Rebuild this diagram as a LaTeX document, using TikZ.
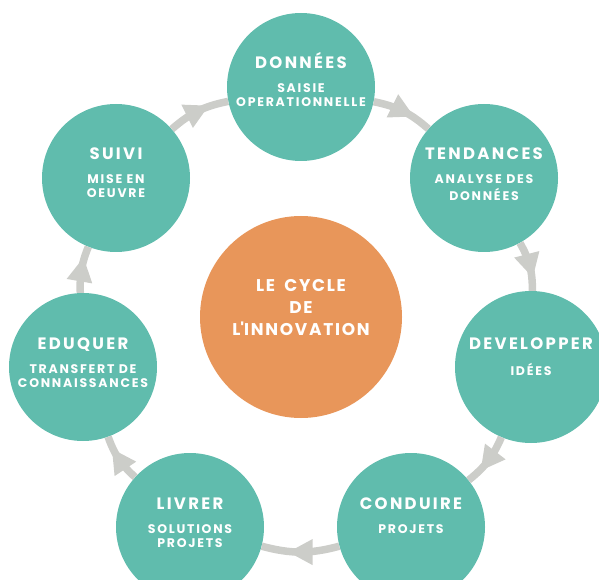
\documentclass[tikz,border=0pt]{standalone}
\usepackage{fontspec}
\setmainfont{Poppins}
\usetikzlibrary{positioning}
\usetikzlibrary{decorations.markings}
\definecolor{stepgreen}{RGB}{96,188,173}
\definecolor{cycleorange}{RGB}{232,150,90}
\definecolor{ringgrey}{RGB}{204,205,201}
\newfontfamily\capfont{Poppins}[LetterSpace=14]
\newfontfamily\cyclefont{Poppins}[LetterSpace=10]
\newcommand{\titlesize}{\fontsize{16.5}{18}\selectfont}
\newcommand{\subsize}{\fontsize{12.5}{14}\selectfont}
% first baseline fixed above the centre of the circle
\newcommand{\steptext}[2]{\raisebox{18pt}[0pt][0pt]{\begin{tabular}[t]{@{}c@{}}{\titlesize #1}\\[10pt]#2\end{tabular}}}
\tikzset{stepnode/.style={circle, fill=stepgreen, text=white, minimum size=148pt, inner sep=0pt,
    font=\capfont\bfseries\subsize}}
\tikzset{ring/.style={draw=ringgrey, line width=7.5pt}}
\tikzset{->-/.style={decoration={
      markings,
      mark=at position #1 with {\fill[ringgrey] (12pt,0) -- (-12pt,13pt) -- (-12pt,-13pt) -- cycle;}},postaction={decorate}}}

\begin{document}
\begin{tikzpicture}[x=1pt, y=1pt]
\clip (0,0) rectangle (599,579);

\node[circle, fill=cycleorange, text=white, minimum size=202pt, inner sep=0pt,
      font=\cyclefont\bfseries\fontsize{17}{21.5}\selectfont] (cycle) at (301,262)
      {\raisebox{25pt}[0pt][0pt]{\begin{tabular}[t]{@{}c@{}}LE\hspace{4pt} CYCLE\\DE\\L\textquotesingle INNOVATION\end{tabular}}};

\node[stepnode] (donnees) at (301,492) {\steptext{DONNÉES}{SAISIE\\OPERATIONNELLE}};
\node[stepnode] (tendances) at (484,401) {\steptext{TENDANCES}{ANALYSE DES\\DONNÉES}};
\node[stepnode, minimum size=152pt] (developper) at (531,212) {\steptext{DEVELOPPER}{IDÉES}};
\node[stepnode] (conduire) at (411,52) {\steptext{CONDUIRE}{PROJETS}};
\node[stepnode] (livrer) at (190,52) {\steptext{LIVRER}{SOLUTIONS\\PROJETS}};
\node[stepnode] (eduquer) at (83,212) {\steptext{EDUQUER}{TRANSFERT DE\\CONNAISSANCES}};
\node[stepnode] (suivi) at (116,401) {\steptext{SUIVI}{MISE EN\\OEUVRE}};

\draw[ring, ->-=0.5] (suivi) to[bend left=15] (donnees);
\draw[ring, ->-=0.5] (donnees) to[bend left=15] (tendances);
\draw[ring, ->-=0.5] (tendances) to[bend left=15] (developper);
\draw[ring, ->-=0.5] (developper) to[bend left=14] (conduire);
\draw[ring, ->-=0.5] (conduire) to[bend left=15] (livrer);
\draw[ring, ->-=0.5] (livrer) to[bend left=14] (eduquer);
\draw[ring, ->-=0.5] (eduquer) to[bend left=12] (suivi);
\end{tikzpicture}
\end{document}
